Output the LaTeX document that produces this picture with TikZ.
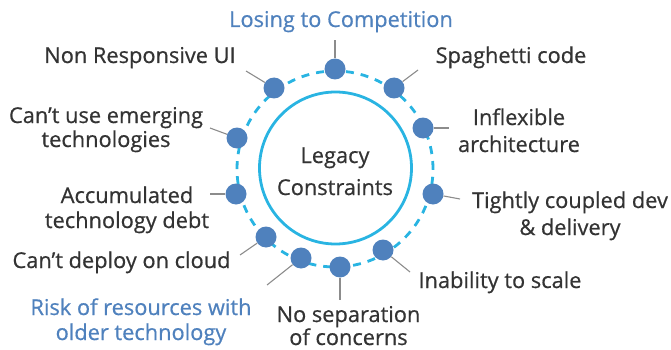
\documentclass[tikz,border=0pt]{standalone}
\usepackage{fontspec}
\setmainfont{Open Sans}[FakeBold=0.6]
\definecolor{dotblue}{RGB}{79,129,189}
\definecolor{ringcyan}{RGB}{41,180,226}
\definecolor{txtblue}{RGB}{79,129,189}
\definecolor{txtdark}{RGB}{51,51,51}
\definecolor{leadgray}{RGB}{140,140,140}
\tikzset{
  dotnode/.style={circle,fill=dotblue,minimum size=21pt,inner sep=0pt},
  lead/.style={draw=leadgray,line width=1.1pt},
  lbl/.style={font=\fontsize{21.8}{26}\selectfont,text=txtdark,align=center,anchor=base,inner sep=0pt},
  bluelbl/.style={lbl,text=txtblue},
}
\begin{document}
\begin{tikzpicture}[x=1pt,y=-1pt]
\useasboundingbox (0,0) rectangle (671,350);
% rings
\node[circle,draw=ringcyan,line width=2.8pt,minimum size=152pt,inner sep=0pt] (core) at (335.5,168) {};
\node[circle,draw=ringcyan,line width=2.8pt,dash pattern=on 8pt off 7pt,minimum size=196pt,inner sep=0pt] (ring) at (335,169) {};
% dots
\node[dotnode] (d1) at (335,69) {};
\node[dotnode] (d2) at (394,88) {};
\node[dotnode] (d3) at (423,128) {};
\node[dotnode] (d4) at (433,194) {};
\node[dotnode] (d5) at (383,250) {};
\node[dotnode] (d6) at (340,267) {};
\node[dotnode] (d7) at (301,258) {};
\node[dotnode] (d8) at (266,237) {};
\node[dotnode] (d9) at (236,194) {};
\node[dotnode] (d10) at (237,138) {};
\node[dotnode] (d11) at (274,88) {};
% leader ends
\coordinate (e1) at (335,40);
\coordinate (e2) at (418,70);
\coordinate (e3) at (449,128);
\coordinate (e4) at (460,199);
\coordinate (e5) at (410,272);
\coordinate (e6) at (340,300);
\coordinate (e7) at (267,285);
\coordinate (e8) at (240,255);
\coordinate (e9) at (210,194);
\coordinate (e10) at (210,128);
\coordinate (e11) at (246,71);
\foreach \i in {1,...,11} { \draw[lead] (d\i) -- (e\i); }
% labels (anchor = baseline of last line)
\node[bluelbl] (l1) at (341,27) {Losing to Competition};
\node[lbl] (l2) at (511,63) {Spaghetti code};
\node[lbl,font=\fontsize{21.8}{27}\selectfont] (l3) at (519,152) {Inflexible\\architecture};
\node[lbl,font=\fontsize{21.8}{27}\selectfont] (l4) at (570,235) {Tightly coupled dev\\\& delivery};
\node[lbl] (l5) at (500,288) {Inability to scale};
\node[lbl,font=\fontsize{21.8}{23}\selectfont] (l6) at (348.5,345) {No separation\\of concerns};
\node[bluelbl,font=\fontsize{21.8}{25}\selectfont] (l7) at (141,340) {Risk of resources with\\older technology};
\node[lbl] (l8) at (121.5,268) {Can’t deploy on cloud};
\node[lbl,font=\fontsize{21.8}{25}\selectfont] (l9) at (127,228) {Accumulated\\technology debt};
\node[lbl,font=\fontsize{21.8}{24}\selectfont] (l10) at (106,147) {Can’t use emerging\\technologies};
\node[lbl] (l11) at (140,63) {Non Responsive UI};
\node[lbl,font=\fontsize{21.8}{32}\selectfont] (ctr) at (335,195) {Legacy\\Constraints};
\end{tikzpicture}
\end{document}
